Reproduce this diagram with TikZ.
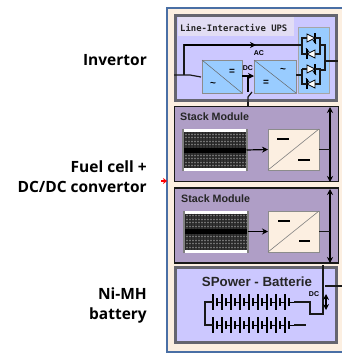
\documentclass[tikz,border=0pt]{standalone}
\usepackage{fontspec}
\setmainfont{Open Sans}
\setsansfont{Liberation Sans}
\setmonofont{DejaVu Sans Mono}
\usepackage{tikz}
\usetikzlibrary{arrows.meta,positioning,calc}
\usepackage{xcolor}
\definecolor{panelbg}{HTML}{FCEFE1}
\definecolor{panelline}{HTML}{4A6FA5}
\definecolor{lavender}{HTML}{CCC8FF}
\definecolor{titlebg}{HTML}{E2DDF4}
\definecolor{framegray}{HTML}{65656F}
\definecolor{stackbg}{HTML}{AF9EC6}
\definecolor{convblue}{HTML}{99CCFF}
\tikzset{
  sidelabel/.style={font=\fontsize{15.5}{20}\selectfont\bfseries, align=right, anchor=east, inner sep=0pt},
  upsframe/.style={draw=framegray, fill=lavender, line width=3pt, outer sep=0pt, inner sep=0pt},
  stackframe/.style={draw=black!90, fill=stackbg, line width=1.8pt, minimum width=164pt, minimum height=75pt, outer sep=0pt, inner sep=0pt},
  convbox/.style={draw=black!45, fill=convblue, line width=0.5pt, minimum height=33pt, outer sep=0pt, inner sep=0pt},
  dcbox/.style={draw=black!45, fill=panelbg, line width=0.6pt, minimum width=51pt, minimum height=41pt, outer sep=0pt, inner sep=0pt},
  cellbox/.style={fill=white, minimum width=64pt, minimum height=42pt, outer sep=0pt, inner sep=0pt},
  tinytitle/.style={font=\sffamily\bfseries\fontsize{10.7}{12}\selectfont, text=black!85, inner sep=0pt},
  tinylabel/.style={font=\sffamily\bfseries\fontsize{7}{8}\selectfont, inner sep=0pt},
  signlabel/.style={font=\sffamily\bfseries\fontsize{10}{10}\selectfont, inner sep=0pt},
  wire/.style={line width=1.2pt, black!90},
  arrow/.style={-{Stealth[length=6pt,width=6pt]}, line width=1.2pt, black},
  dblarrow/.style={{Stealth[length=6pt,width=6pt]}-{Stealth[length=6pt,width=6pt]}, line width=1.2pt, black},
  thyr/.pic={
    \draw[line width=0.8pt, fill=white] (-4,-4) -- (4,0) -- (-4,4) -- cycle;
    \draw[line width=1.2pt] (4,-5) -- (4,5);
    \draw[line width=0.8pt] (2,2) -- (5,6);
  }
}
\newcommand{\cellgrid}[1]{%
  \begin{scope}[shift={(#1.center)}]
    \fill[black!80] (-32,-18) rectangle (32,18);
    \foreach \i in {-16,-12.5,...,16} {\draw[black!55, line width=0.7pt] (-31,\i) -- (31,\i);}
    \foreach \i in {-30,-27,...,30} {\draw[black!85, line width=1pt] (\i,-18) -- (\i,18);}
    \fill[black] (-32,-2.5) rectangle (32,2.5);
    \fill[black!50] (-33,-21) rectangle (-31,21);
    \fill[black!50] (31,-21) rectangle (33,21);
  \end{scope}
}
\newcommand{\cellrow}[2]{%
  \foreach \k in {0,...,8} {
    \draw[line width=1.1pt] ({#1+9*\k},#2-8) -- ({#1+9*\k},#2+8);
    \draw[line width=1.1pt] ({#1+9*\k+4},#2-4) -- ({#1+9*\k+4},#2+4);
    \draw[line width=0.9pt] ({#1+9*\k+4},#2) -- ({#1+9*\k+9},#2);
  }
}
\begin{document}
\begin{tikzpicture}[x=1pt,y=-1pt]
\useasboundingbox (0,0) rectangle (342,354);
\fill[white] (0,0) rectangle (342,354);
% outer panel
\node[fill=panelbg, minimum width=175pt, minimum height=344pt, outer sep=0pt, inner sep=0pt] (panel) at (254.5,180) {};
\draw[panelline, line width=1.2pt] (panel.north east) -- (panel.north west) -- (panel.south west) -- (panel.south east);
% left labels
\node[sidelabel] (invlabel) at (147,60) {Invertor};
\node[sidelabel] (fuellabel) at (147,177) {Fuel cell +\\DC/DC convertor};
\node[sidelabel] (batlabel) at (147,305) {Ni-MH\\battery};
\draw[-{Stealth[length=4pt,width=6pt]}, red, line width=1.5pt] (161,181) -- (panel.west |- 0,181);
% UPS
\node[upsframe, minimum width=161pt, minimum height=85pt] (ups) at (256,58) {};
\node[fill=titlebg, minimum width=116pt, minimum height=19pt, outer sep=0pt, inner sep=0pt] (upstitlebg) at (236,26.5) {};
\node[tinytitle, anchor=west, font=\ttfamily\bfseries\fontsize{8.9}{11}\selectfont] (upstitle) at (180,28) {Line-Interactive UPS};
\node[convbox, minimum width=40pt] (conva) at (222,76.5) {};
\node[convbox, minimum width=42pt, right=12pt of conva] (convb) {};
\node[draw=black!35, fill=convblue, line width=0.5pt, minimum width=31pt, minimum height=66pt, outer sep=0pt] (thyrbox) at (313.5,60) {};
\draw[black!60, line width=0.5pt] (conva.north west) -- (conva.south east);
\draw[black!60, line width=0.5pt] (convb.north west) -- (convb.south east);
\node[signlabel] (conva1) at (232,72) {=};
\node[signlabel] (conva2) at (213,84) {\textasciitilde};
\node[signlabel] (convb1) at (283,70) {\textasciitilde};
\node[signlabel] (convb2) at (266,83) {=};
\coordinate (acin) at (174,75);
\coordinate (swa) at (190,75);
\coordinate (swb) at (201,77);
\coordinate (acup) at (184,45);
\coordinate (acend) at (302,45);
\draw[wire] (acin) -- (swa) -- (swb);
\draw[wire] (acin -| acup) |- (acend);
\draw[arrow] (acup) -- (256,45);
\node[tinylabel] (aclabel) at (259,53) {AC};
\node[tinylabel] (dclabel) at (248,68) {DC};
\draw[arrow] (conva.east |- 0,76) -- (convb.west |- 0,76);
\coordinate (dcup) at (248,76);
\coordinate (dcsw) at (248,92);
\coordinate (dcdown) at (248,102);
\draw[line width=1.4pt] (dcup) -- (dcsw);
\draw[wire] (dcdown) -- (248,97) -- (252,92);
% thyristors
\foreach \yy/\rr in {38/0,54/180,69/0,84/180} {
  \pic[rotate=\rr] at (311,\yy) {thyr};
}
\draw[wire] (acend) -- (302,38) -- (307,38);
\draw[wire] (acend) -- (302,54) -- (307,54);
\draw[wire] (315,38) -- (320,38) -- (320,54) -- (315,54);
\draw[wire] (convb.east |- 0,75) -- (302,75);
\draw[wire] (302,69) -- (307,69);
\draw[wire] (302,69) -- (302,84) -- (307,84);
\draw[wire] (315,69) -- (320,69) -- (320,84) -- (315,84);
\draw[wire] (320,45) -- (325,45) -- (325,70) -- (320,70);
\draw[wire] (325,61) -- (338,61);
% stack modules
\node[stackframe] (sma) at (256.5,144) {};
\node[tinytitle, anchor=west] (smatitle) at (180,117) {Stack Module};
\node[cellbox] (stacka) at (214.5,150) {};
\cellgrid{stacka}
\node[dcbox] (dca) at (293.5,149.5) {};
\draw[black!50, line width=0.6pt] (dca.south west) -- (dca.north east);
\draw[line width=1.2pt] (277,139) -- (289,139);
\draw[line width=1.2pt] (298,160) -- (310,160);
\draw[arrow] (stacka.east) -- (dca.west);
\coordinate (busat) at (330,107);
\coordinate (busab) at (330,182);
\draw[dblarrow] (busat) -- (busab);
\draw[wire] (dca.east) -- (dca.east -| busat);

\node[stackframe] (smb) at (256.5,225.5) {};
\node[tinytitle, anchor=west] (smbtitle) at (181,199) {Stack Module};
\node[cellbox] (stackb) at (215.5,231.5) {};
\cellgrid{stackb}
\node[dcbox] (dcb) at (293.5,231.5) {};
\draw[black!50, line width=0.6pt] (dcb.south west) -- (dcb.north east);
\draw[line width=1.2pt] (278,221) -- (290,221);
\draw[line width=1.2pt] (299,241) -- (310,241);
\draw[arrow] (stackb.east) -- (dcb.west);
\coordinate (busbt) at (330,189);
\coordinate (busbb) at (330,263);
\draw[dblarrow] (busbt) -- (busbb);
\draw[wire] (dcb.east) -- (dcb.east -| busbt);
\draw[wire] (dcdown) -- (248,106);
% battery
\node[upsframe, minimum width=161pt, minimum height=75pt] (bat) at (256,305) {};
\node[font=\sffamily\bfseries\fontsize{13.3}{14}\selectfont, text=black!85, inner sep=0pt] (battitle) at (257,282) {SPower - Batterie};
\cellrow{213}{302}
\cellrow{213}{325}
\coordinate (cella) at (205,302);
\coordinate (cellb) at (205,325);
\coordinate (cellc) at (310,302);
\coordinate (celld) at (310,314);
\coordinate (dcbus) at (323,314);
\coordinate (dctop) at (323,265);
\coordinate (dcout) at (342,286);
\draw[wire] (213,302) -- (cella) -- (cellb) -- (213,325);
\draw[wire] (294,302) -- (cellc) -- (celld) -- (dcbus) -- (dctop);
\draw[wire] (294,325) -- (306,325);
\draw[dblarrow, line width=1.5pt] (326,294) -- (326,310);
\draw[wire] (325,286) -- (dcout);
\node[tinylabel] (batdc) at (314,294) {DC};
\end{tikzpicture}
\end{document}
